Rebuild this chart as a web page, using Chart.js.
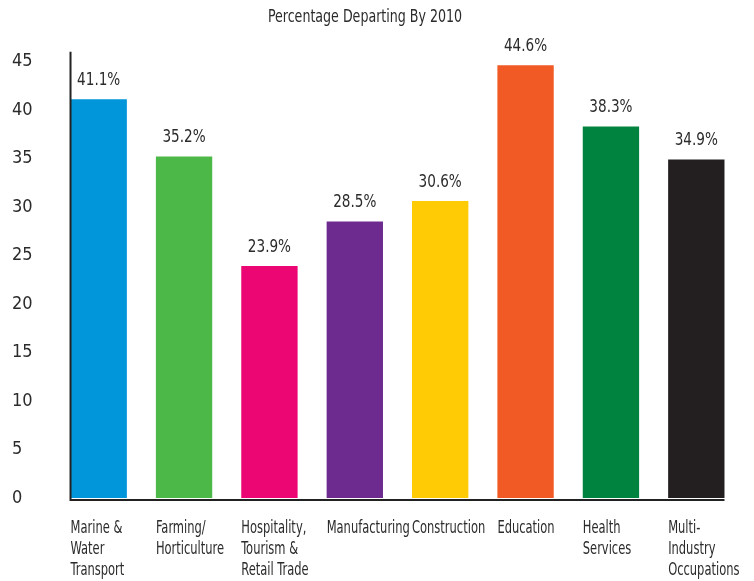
<!DOCTYPE html>
<html>
<head>
<meta charset="utf-8">
<script src="https://cdn.jsdelivr.net/npm/chart.js@4/dist/chart.umd.min.js"></script>
<style>
  html, body { margin: 0; padding: 0; background: #fff; }
  #wrap { width: 754px; height: 581px; }
</style>
</head>
<body>
<div id="wrap"><canvas id="chart1"></canvas></div>
<script>
// data
const chartTitle = 'Percentage Departing By 2010';
const categories = [
  ['Marine &', 'Water', 'Transport'],
  ['Farming/', 'Horticulture'],
  ['Hospitality,', 'Tourism &', 'Retail Trade'],
  ['Manufacturing'],
  ['Construction'],
  ['Education'],
  ['Health', 'Services'],
  ['Multi-', 'Industry', 'Occupations']
];
const departing = [41.1, 35.2, 23.9, 28.5, 30.6, 44.6, 38.3, 34.9];
const barColors = ['#0096d9', '#4cb848', '#ec0673', '#6d2a8f', '#ffcb05', '#f15a24', '#00833f', '#231f20'];
const yTicks = [0, 5, 10, 15, 20, 25, 30, 35, 40, 45];

const FONT = "'Liberation Sans Narrow', 'DejaVu Sans Condensed', 'Roboto Condensed', sans-serif";
const INK = '#2b2b2b';

Chart.defaults.font.family = FONT;
Chart.defaults.color = INK;

// the original uses a tall narrow typeface, so squeeze text sideways
function narrowText(ctx, text, x, y, squeeze) {
  ctx.save();
  ctx.translate(x, y);
  ctx.scale(squeeze, 1);
  ctx.fillText(text, 0, 0);
  ctx.restore();
}

// axis lines, title, value labels and the left-aligned category names
const decorations = {
  id: 'decorations',
  afterDatasetsDraw(chart) {
    const ctx = chart.ctx;
    const bars = chart.getDatasetMeta(0).data;
    const y = chart.scales.y;
    const first = bars[0], last = bars[bars.length - 1];
    const x0 = first.x - first.width / 2;
    const x1 = last.x + last.width / 2;
    const base = y.getPixelForValue(0) + 2;

    ctx.save();
    ctx.strokeStyle = '#222';
    ctx.lineWidth = 2;
    ctx.beginPath();
    ctx.moveTo(x0, y.getPixelForValue(46));
    ctx.lineTo(x0, base);
    ctx.lineTo(x1, base);
    ctx.stroke();

    ctx.fillStyle = INK;

    ctx.font = '18px ' + FONT;
    ctx.textAlign = 'center';
    ctx.textBaseline = 'middle';
    narrowText(ctx, chartTitle, 365, 17, 0.78);

    ctx.textBaseline = 'bottom';
    bars.forEach((bar, i) => {
      narrowText(ctx, departing[i].toFixed(1) + '%', bar.x, bar.y - 10, 0.84);
    });

    ctx.textAlign = 'left';
    ctx.textBaseline = 'top';
    bars.forEach((bar, i) => {
      categories[i].forEach((line, j) => {
        narrowText(ctx, line, bar.x - bar.width / 2, base + 19 + j * 21, 0.71);
      });
    });
    ctx.restore();
  }
};

new Chart(document.getElementById('chart1'), {
  type: 'bar',
  data: {
    labels: categories.map(c => c.join(' ')),
    datasets: [{
      data: departing,
      backgroundColor: barColors,
      borderWidth: 0,
      barPercentage: 0.66,
      categoryPercentage: 1
    }]
  },
  options: {
    responsive: true,
    maintainAspectRatio: false,
    animation: false,
    layout: { padding: { left: 12, right: 15, top: 42, bottom: 83 } },
    plugins: {
      legend: { display: false },
      tooltip: { enabled: false },
      title: { display: false }
    },
    scales: {
      x: {
        grid: { display: false, drawTicks: false },
        border: { display: false },
        ticks: { display: false }
      },
      y: {
        min: 0,
        max: 47,
        grid: { display: false, drawTicks: false },
        border: { display: false },
        afterBuildTicks: (scale) => {
          scale.ticks = yTicks.map(v => ({ value: v }));
        },
        afterFit: (scale) => { scale.width = 44; },
        ticks: {
          crossAlign: 'far',
          padding: 0,
          color: INK,
          font: { size: 18 }
        }
      }
    }
  },
  plugins: [decorations]
});
</script>
</body>
</html>
